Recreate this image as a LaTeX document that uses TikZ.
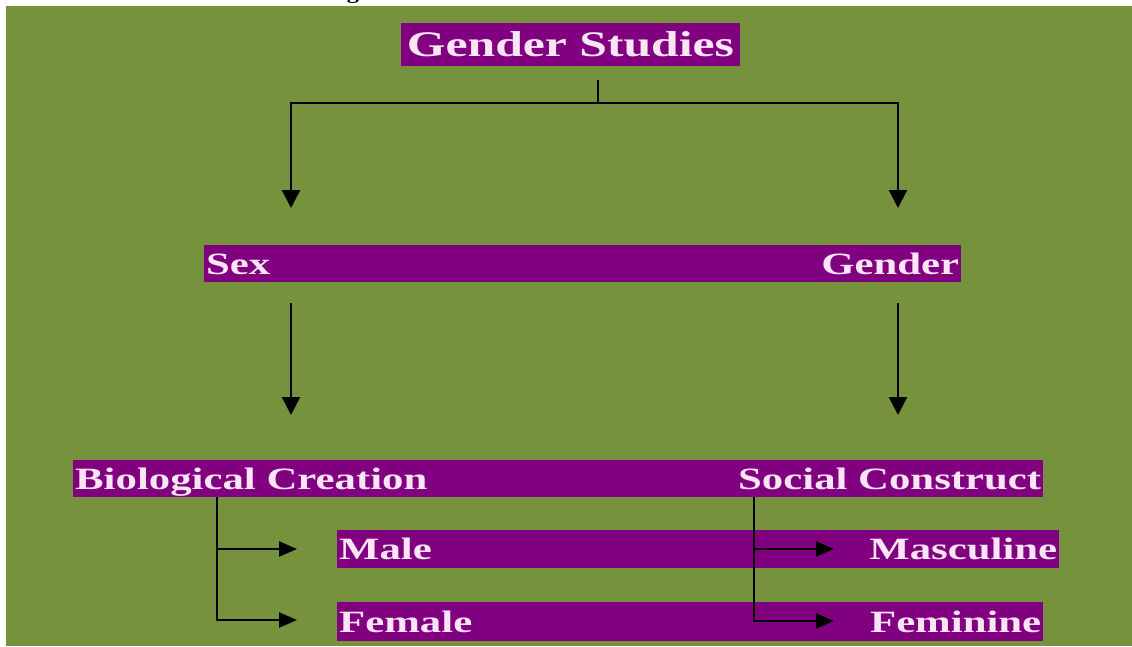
\documentclass[tikz,border=0pt]{standalone}
\usepackage{fontspec}
\usetikzlibrary{arrows.meta}

\newfontfamily\chartfont[FakeStretch=1.38]{Liberation Serif}
\newfontfamily\capfont[FakeStretch=1.35]{Liberation Serif}

\definecolor{leafgreen}{HTML}{76923C}
\definecolor{plum}{HTML}{800080}
\definecolor{pinkwhite}{RGB}{250,228,246}

\tikzset{
  bar/.style={fill=plum, draw=none, inner sep=0pt, anchor=north west},
  lbl/.style={text=pinkwhite, inner sep=2pt, text height=21pt, text depth=0pt,
    font=\chartfont\bfseries\fontsize{31}{37}\selectfont},
  link/.style={line width=2.4pt, black},
  tip/.style={-{Triangle[width=18pt,length=18pt]}},
  sidetip/.style={-{Triangle[width=15pt,length=18pt]}}
}

\begin{document}
\begin{tikzpicture}[x=1pt, y=-1pt]
  \useasboundingbox (0,0) rectangle (1132,646);
  \clip (0,0) rectangle (1132,646);
  \fill[white] (0,0) rectangle (1132,646);
  \fill[leafgreen] (6,6) rectangle (1132,646);

  \node[anchor=base, font=\capfont\bfseries\fontsize{18}{22}\selectfont] (caption) at (562,-1)
    {Figure 1: Difference between Sex and Gender};

  \node[fill=plum, text=pinkwhite, inner sep=0pt, minimum width=339pt, minimum height=43pt,
    text height=24pt, text depth=0pt, font=\chartfont\bfseries\fontsize{36}{42}\selectfont]
    (gs) at (570.5,44.5) {Gender Studies};

  \node[bar, minimum width=757pt, minimum height=37pt] (row1) at (204,245) {};
  \node[lbl, anchor=west] (sex) at (row1.west) {Sex};
  \node[lbl, anchor=east] (gender) at (row1.east) {Gender};

  \node[bar, minimum width=970pt, minimum height=37pt] (row2) at (73,460) {};
  \node[lbl, anchor=west] (bio) at (row2.west) {Biological Creation};
  \node[lbl, anchor=east] (social) at (row2.east) {Social Construct};

  \node[bar, minimum width=722pt, minimum height=38pt] (row3) at (337,530) {};
  \node[lbl, anchor=west] (male) at (row3.west) {Male};
  \node[lbl, anchor=east] (masc) at (row3.east) {Masculine};

  \node[bar, minimum width=706pt, minimum height=39pt] (row4) at (337,602) {};
  \node[lbl, anchor=west] (female) at (row4.west) {Female};
  \node[lbl, anchor=east] (fem) at (row4.east) {Feminine};

  % split below the title
  \coordinate (stub) at (598,80);
  \coordinate (fork) at (598,103);
  \coordinate (sexin) at (291,208);
  \coordinate (genin) at (898,208);
  \draw[link] (stub) -- (fork);
  \draw[link, tip] (fork) -| (sexin);
  \draw[link, tip] (fork) -| (genin);

  % sex -> biological, gender -> social
  \coordinate (sexout) at (291,303);
  \coordinate (bioin) at (291,415);
  \coordinate (genout) at (898,303);
  \coordinate (socin) at (898,415);
  \draw[link, tip] (sexout) -- (bioin);
  \draw[link, tip] (genout) -- (socin);

  % branches to the last two rows
  \coordinate (bioout) at (217,497);
  \coordinate (malein) at (297,549);
  \coordinate (femalein) at (297,620);
  \coordinate (socout) at (754,497);
  \coordinate (mascin) at (834,549);
  \coordinate (femin) at (834,621);
  \draw[link, sidetip] (bioout) |- (malein);
  \draw[link, sidetip] (bioout) |- (femalein);
  \draw[link, sidetip] (socout) |- (mascin);
  \draw[link, sidetip] (socout) |- (femin);
\end{tikzpicture}
\end{document}
